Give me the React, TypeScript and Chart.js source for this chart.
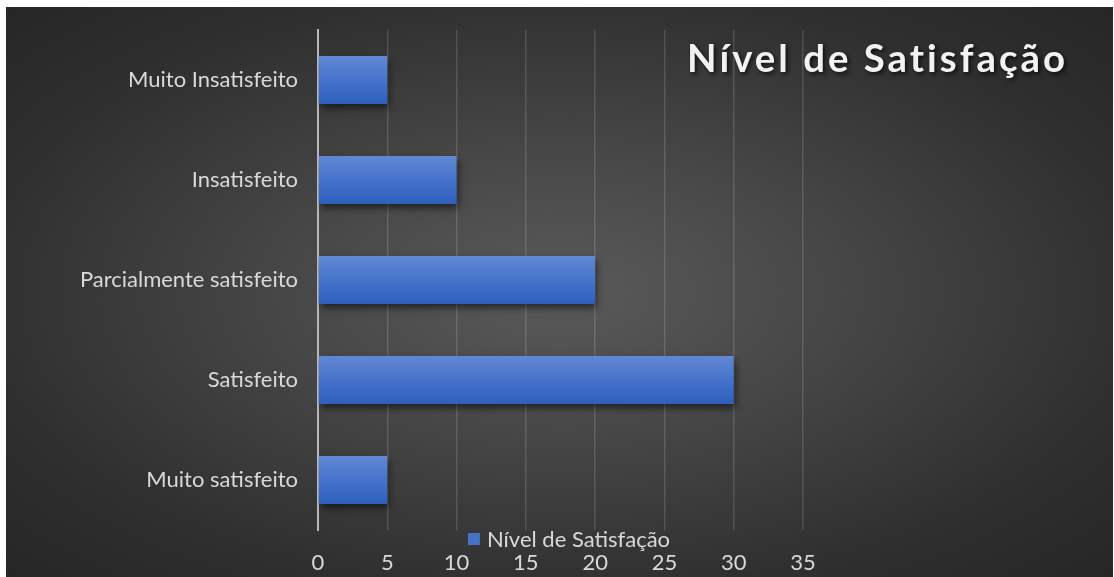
import React, { useEffect, useRef } from "react";
import { Chart, registerables } from "chart.js";

Chart.register(...registerables);

const categories = [
  "Muito Insatisfeito",
  "Insatisfeito",
  "Parcialmente satisfeito",
  "Satisfeito",
  "Muito satisfeito",
];
const values = [5, 10, 20, 30, 5];
const seriesName = "Nível de Satisfação";
const titleText = "Nível de Satisfação";
const xMin = 0;
const xMax = 35;
const xStep = 5;

const FONT = "Lato, 'Open Sans', sans-serif";
const W = 1107;
const H = 570;

export default function App() {
  const ref = useRef<HTMLCanvasElement | null>(null);

  useEffect(() => {
    const canvas = ref.current;
    if (!canvas) return;

    const overlay = {
      id: "overlay",
      beforeDatasetsDraw(chart: any) {
        const c = chart.ctx;
        c.save();
        c.shadowColor = "rgba(0,0,0,0.55)";
        c.shadowBlur = 7;
        c.shadowOffsetX = 2;
        c.shadowOffsetY = 4;
      },
      afterDatasetsDraw(chart: any) {
        chart.ctx.restore();
      },
      afterDraw(chart: any) {
        const c = chart.ctx;
        // Title
        c.save();
        (c as any).letterSpacing = "3px";
        let size = 40;
        c.font = `bold ${size}px ${FONT}`;
        const w0 = c.measureText(titleText).width;
        size = Math.round(size * 379 / w0 * 10) / 10;
        c.font = `bold ${size}px ${FONT}`;
        c.fillStyle = "#f2f2f2";
        c.textAlign = "right";
        c.textBaseline = "alphabetic";
        c.shadowColor = "rgba(0,0,0,0.7)";
        c.shadowBlur = 4;
        c.shadowOffsetX = 2;
        c.shadowOffsetY = 2;
        c.fillText(titleText, 1062, 65);
        c.restore();

        // Legend
        c.save();
        c.font = `22px ${FONT}`;
        const tw = c.measureText(seriesName).width;
        const box = 12;
        const gap = 7;
        const total = box + gap + tw;
        const cx = 563;
        const x0 = cx - total / 2;
        const cy = 532;
        c.fillStyle = "#4472c4";
        c.fillRect(x0, cy - box / 2, box, box);
        c.fillStyle = "#d9d9d9";
        c.textBaseline = "middle";
        c.textAlign = "left";
        c.fillText(seriesName, x0 + box + gap, cy + 1);
        c.restore();
      },
    };

    const chart = new Chart(canvas, {
      type: "bar",
      data: {
        labels: categories,
        datasets: [
          {
            label: seriesName,
            data: values,
            backgroundColor: (ctx: any) => {
              const ch = ctx.chart;
              const ys = ch.scales && ch.scales.y;
              if (!ys || ctx.dataIndex === undefined) return "#4472c4";
              const center = ys.getPixelForValue(ctx.dataIndex);
              if (!Number.isFinite(center)) return "#4472c4";
              const half = 24;
              const g = ch.ctx.createLinearGradient(0, center - half, 0, center + half);
              g.addColorStop(0, "#6188d2");
              g.addColorStop(0.5, "#4673cb");
              g.addColorStop(1, "#2e5fbd");
              return g;
            },
            borderWidth: 0,
            categoryPercentage: 0.8,
            barPercentage: 0.6,
          },
        ],
      },
      options: {
        indexAxis: "y",
        animation: false,
        responsive: false,
        devicePixelRatio: 1,
        layout: { padding: { left: 0, right: W - 797, top: 23, bottom: 0 } },
        plugins: {
          legend: { display: false },
          title: { display: false },
          tooltip: { enabled: false },
        },
        scales: {
          x: {
            min: xMin,
            max: xMax,
            ticks: {
              stepSize: xStep,
              color: "#d9d9d9",
              font: { family: FONT, size: 22 },
              padding: 20,
            },
            grid: {
              color: "rgba(255,255,255,0.14)",
              lineWidth: 1.5,
              drawTicks: false,
            },
            border: { display: false },
            afterFit: (s: any) => {
              s.height = 47;
              s.paddingLeft = 0;
              s.paddingRight = 0;
            },
          },
          y: {
            ticks: {
              color: "#d9d9d9",
              font: { family: FONT, size: 22 },
              padding: 20,
            },
            grid: { display: false, drawTicks: false },
            border: { display: true, color: "#b8b8b8", width: 2 },
            afterFit: (s: any) => {
              s.width = 312;
              s.paddingTop = 0;
              s.paddingBottom = 0;
            },
          },
        },
      },
      plugins: [overlay],
    });

    return () => chart.destroy();
  }, []);

  return (
    <div
      style={{
        position: "absolute",
        left: 6,
        top: 7,
        width: W,
        height: H,
        background:
          "radial-gradient(ellipse farthest-corner at 50% 50%, #5a5a5a 0%, #474747 35%, #2f2f2f 75%, #262626 100%)",
      }}
    >
      <canvas ref={ref} width={W} height={H} style={{ display: "block", width: W, height: H }} />
    </div>
  );
}
